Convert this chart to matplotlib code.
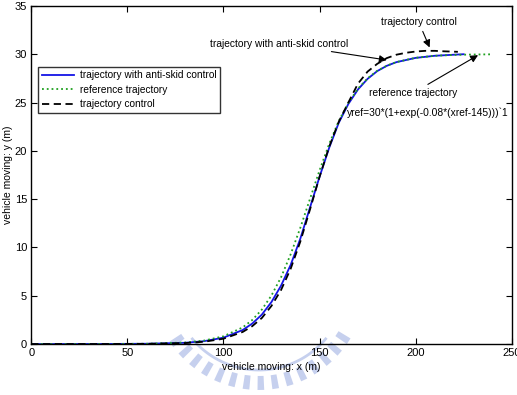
#!/usr/bin/env python3

import numpy as np
import matplotlib
matplotlib.use('Agg')
import matplotlib.pyplot as plt
from matplotlib.patches import Polygon

plt.rcParams['font.family'] = ['Liberation Sans', 'DejaVu Sans']

# reference trajectory (green dotted)
x_ref = [0, 40, 60, 80, 90, 100, 110, 115, 120, 125, 130, 135, 140, 145, 150,
         155, 160, 165, 170, 175, 180, 185, 190, 200, 210, 220, 230, 240]
y_ref = [0, 0.01, 0.03, 0.16, 0.36, 0.80, 1.72, 2.49, 3.57, 5.03, 6.92, 9.30,
         12.03, 15.0, 17.97, 20.70, 23.08, 24.96, 26.43, 27.50, 28.28, 28.81,
         29.19, 29.63, 29.84, 29.93, 29.97, 29.99]

# trajectory with anti-skid control (blue solid)
x_skid = [0, 40, 60, 80, 90, 100, 110, 115, 120, 125, 130, 135, 140, 145, 150,
          155, 160, 165, 170, 175, 180, 185, 190, 200, 210, 220, 225]
y_skid = [0, 0.01, 0.03, 0.13, 0.30, 0.66, 1.45, 2.12, 3.05, 4.35, 6.05, 8.2,
          10.9, 14.1, 17.3, 20.3, 22.9, 24.85, 26.35, 27.45, 28.25, 28.8,
          29.18, 29.62, 29.84, 29.95, 30.0]

# trajectory control (black dashed)
x_ctrl = [0, 40, 60, 80, 90, 100, 110, 115, 120, 125, 130, 135, 140, 145, 150,
          155, 160, 165, 170, 175, 180, 185, 190, 195, 200, 205, 210, 215, 222]
y_ctrl = [0, 0.0, 0.02, 0.10, 0.24, 0.55, 1.25, 1.85, 2.7, 3.95, 5.6, 7.8,
          10.6, 13.9, 17.3, 20.4, 23.0, 25.0, 26.95, 28.2, 29.0, 29.6, 29.95,
          30.15, 30.28, 30.35, 30.35, 30.3, 30.25]

x_ticks = [0, 50, 100, 150, 200, 250]
y_ticks = [0, 5, 10, 15, 20, 25, 30, 35]

fig = plt.figure(figsize=(5.17, 3.95), dpi=100)

# faint logo watermark in the background (pixel coordinates)
wm = fig.add_axes([0, 0, 1, 1], zorder=-1)
wm.set_xlim(0, 517)
wm.set_ylim(395, 0)
wm.axis('off')
wm_col = '#c6d0ee'
cx, cy = 259, 283
for ang in np.arange(33, 150, 8.0):
    a = np.radians(ang)
    da = np.radians(1.8)
    r0, r1 = 93, 107
    pts = [(cx + r0 * np.cos(a - da), cy + r0 * np.sin(a - da)),
           (cx + r1 * np.cos(a - da), cy + r1 * np.sin(a - da)),
           (cx + r1 * np.cos(a + da), cy + r1 * np.sin(a + da)),
           (cx + r0 * np.cos(a + da), cy + r0 * np.sin(a + da))]
    wm.add_patch(Polygon(pts, closed=True, color=wm_col, lw=0))
arc = np.radians(np.linspace(40, 140, 60))
wm.plot(cx + 87 * np.cos(arc), cy + 87 * np.sin(arc), color=wm_col, lw=2)

ax = fig.add_axes([0.0605, 0.129, 0.9292, 0.856])
ax.set_facecolor('none')

ax.plot(x_skid, y_skid, color='#1414e6', lw=1.3, label='trajectory with anti-skid control')
ax.plot(x_ref, y_ref, color='#1fa01f', lw=1.3, ls=':', label='reference trajectory')
ax.plot(x_ctrl, y_ctrl, color='black', lw=1.3, ls=(0, (4, 2.5)), label='trajectory control')

ax.set_xlim(0, 250)
ax.set_ylim(0, 35)
ax.set_xticks(x_ticks)
ax.set_yticks(y_ticks)
ax.tick_params(direction='in', length=4, width=0.8, top=True, right=True,
               labelsize=8, pad=3)
for s in ax.spines.values():
    s.set_linewidth(1.0)

ax.set_xlabel('vehicle moving: x (m)', fontsize=7.5, labelpad=3)
ax.set_ylabel('vehicle moving: y (m)', fontsize=7.5, labelpad=1.5)

leg = ax.legend(loc='upper left', bbox_to_anchor=(0.014, 0.82), fontsize=7.3,
                frameon=True, fancybox=False, edgecolor='black',
                handlelength=3.2, borderaxespad=0, borderpad=0.35,
                labelspacing=0.45, handletextpad=0.6)
leg.get_frame().set_linewidth(1.0)

arrow = dict(arrowstyle='-|>', color='black', lw=0.8, mutation_scale=11,
             shrinkA=1, shrinkB=0)
ax.annotate('trajectory control', xy=(207.3, 30.7), xytext=(201.7, 33.3),
            ha='center', va='center', fontsize=7.4, arrowprops=arrow)
ax.annotate('trajectory with anti-skid control', xy=(185.0, 29.4),
            xytext=(128.9, 31.1), ha='center', va='center', fontsize=7.4,
            arrowprops=arrow)
ax.annotate('reference trajectory', xy=(232.5, 29.9), xytext=(198.8, 26.0),
            ha='center', va='center', fontsize=7.4, arrowprops=arrow)
ax.text(164.1, 23.9, 'yref=30*(1+exp(-0.08*(xref-145)))`1', ha='left',
        va='center', fontsize=7.4)

fig.savefig('out.png', dpi=100)
